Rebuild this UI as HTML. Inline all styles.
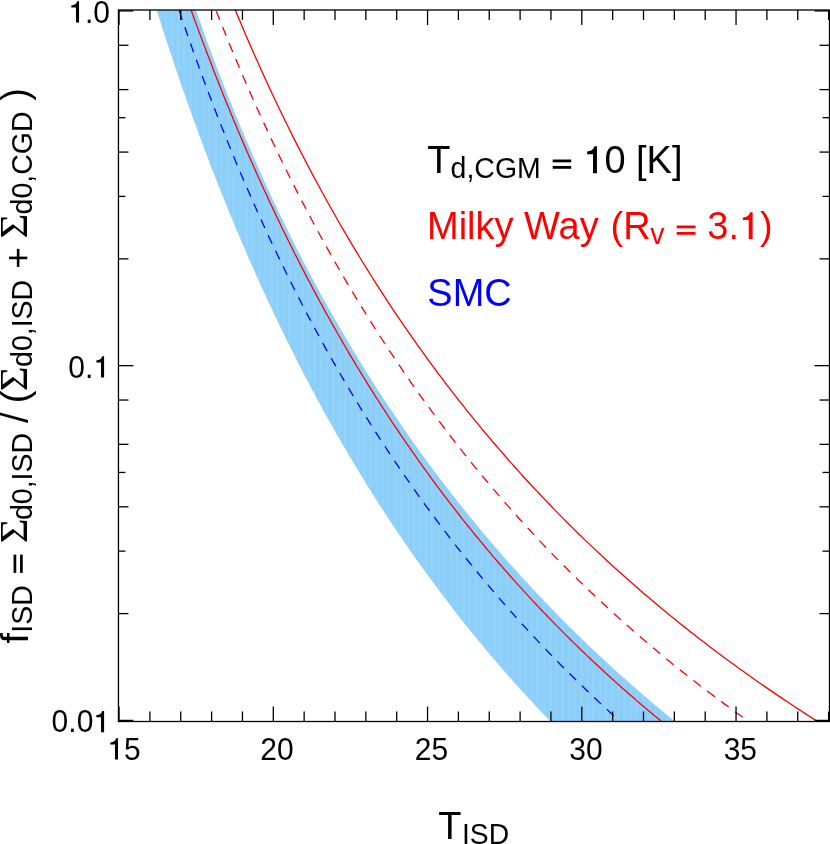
<!DOCTYPE html>
<html><head><meta charset="utf-8"><title>f_ISD vs T_ISD</title>
<style>
html,body{margin:0;padding:0;background:#fff;}
body{width:830px;height:844px;overflow:hidden;}
svg{display:block;font-family:"Liberation Sans",sans-serif;will-change:transform;transform:translateZ(0);}
</style></head><body>
<svg width="830" height="844" viewBox="0 0 830 844">
<rect x="0" y="0" width="830" height="844" fill="#fff"/>
<defs>
<clipPath id="cp"><rect x="118.45" y="10.0" width="711.05" height="711.5"/></clipPath>
<pattern id="stripe" width="6.2" height="8" patternUnits="userSpaceOnUse">
<rect width="6.2" height="8" fill="#8acef9"/><rect x="3.1" width="3.1" height="8" fill="#92d2fa"/>
</pattern>
</defs>
<g clip-path="url(#cp)">
<path d="M156.62,10.00 L159.11,17.87 L161.59,25.66 L164.08,33.38 L166.57,41.02 L169.05,48.59 L171.54,56.09 L174.03,63.52 L176.51,70.88 L179.00,78.17 L181.49,85.39 L183.98,92.55 L186.46,99.64 L188.95,106.67 L191.44,113.63 L193.92,120.53 L196.41,127.37 L198.90,134.15 L201.38,140.86 L203.87,147.52 L206.36,154.12 L208.85,160.66 L211.33,167.15 L213.82,173.57 L216.31,179.95 L218.79,186.26 L221.28,192.53 L223.77,198.74 L226.25,204.89 L228.74,211.00 L231.23,217.05 L233.72,223.06 L236.20,229.01 L238.69,234.92 L241.18,240.77 L243.66,246.58 L246.15,252.34 L248.64,258.05 L251.12,263.72 L253.61,269.34 L256.10,274.91 L258.59,280.44 L261.07,285.93 L263.56,291.37 L266.05,296.77 L268.53,302.13 L271.02,307.45 L273.51,312.72 L275.99,317.96 L278.48,323.15 L280.97,328.30 L283.46,333.41 L285.94,338.49 L288.43,343.52 L290.92,348.52 L293.40,353.48 L295.89,358.40 L298.38,363.29 L300.86,368.14 L303.35,372.95 L305.84,377.72 L308.33,382.47 L310.81,387.17 L313.30,391.85 L315.79,396.48 L318.27,401.09 L320.76,405.66 L323.25,410.20 L325.73,414.70 L328.22,419.18 L330.71,423.62 L333.20,428.03 L335.68,432.41 L338.17,436.76 L340.66,441.08 L343.14,445.36 L345.63,449.62 L348.12,453.85 L350.60,458.05 L353.09,462.22 L355.58,466.36 L358.06,470.47 L360.55,474.55 L363.04,478.61 L365.53,482.64 L368.01,486.64 L370.50,490.62 L372.99,494.57 L375.47,498.49 L377.96,502.39 L380.45,506.26 L382.93,510.10 L385.42,513.92 L387.91,517.72 L390.40,521.49 L392.88,525.23 L395.37,528.95 L397.86,532.65 L400.34,536.32 L402.83,539.97 L405.32,543.60 L407.80,547.20 L410.29,550.78 L412.78,554.34 L415.27,557.87 L417.75,561.38 L420.24,564.87 L422.73,568.34 L425.21,571.79 L427.70,575.21 L430.19,578.62 L432.67,582.00 L435.16,585.36 L437.65,588.70 L440.14,592.02 L442.62,595.32 L445.11,598.61 L447.60,601.87 L450.08,605.11 L452.57,608.33 L455.06,611.53 L457.54,614.71 L460.03,617.88 L462.52,621.02 L465.01,624.15 L467.49,627.26 L469.98,630.35 L472.47,633.42 L474.95,636.47 L477.44,639.51 L479.93,642.53 L482.41,645.53 L484.90,648.51 L487.39,651.48 L489.88,654.42 L492.36,657.36 L494.85,660.27 L497.34,663.17 L499.82,666.05 L502.31,668.92 L504.80,671.77 L507.28,674.60 L509.77,677.42 L512.26,680.22 L514.75,683.00 L517.23,685.77 L519.72,688.53 L522.21,691.27 L524.69,693.99 L527.18,696.70 L529.67,699.40 L532.15,702.08 L534.64,704.74 L537.13,707.39 L539.62,710.03 L542.10,712.65 L544.59,715.26 L547.08,717.85 L549.56,720.43 L552.05,723.00 L676.85,723.00 L673.83,720.54 L670.80,718.07 L667.78,715.59 L664.75,713.09 L661.73,710.58 L658.70,708.05 L655.68,705.51 L652.65,702.96 L649.62,700.39 L646.60,697.81 L643.57,695.22 L640.55,692.61 L637.52,689.98 L634.50,687.34 L631.47,684.69 L628.45,682.02 L625.42,679.33 L622.40,676.63 L619.37,673.92 L616.35,671.19 L613.32,668.44 L610.30,665.68 L607.27,662.90 L604.25,660.10 L601.22,657.29 L598.20,654.47 L595.17,651.62 L592.15,648.76 L589.12,645.88 L586.10,642.99 L583.07,640.07 L580.04,637.14 L577.02,634.19 L573.99,631.23 L570.97,628.24 L567.94,625.24 L564.92,622.22 L561.89,619.18 L558.87,616.13 L555.84,613.05 L552.82,609.95 L549.79,606.84 L546.77,603.70 L543.74,600.55 L540.72,597.37 L537.69,594.18 L534.67,590.96 L531.64,587.73 L528.62,584.47 L525.59,581.20 L522.57,577.90 L519.54,574.58 L516.52,571.24 L513.49,567.87 L510.46,564.49 L507.44,561.08 L504.41,557.65 L501.39,554.20 L498.36,550.72 L495.34,547.22 L492.31,543.70 L489.29,540.15 L486.26,536.58 L483.24,532.98 L480.21,529.36 L477.19,525.71 L474.16,522.04 L471.14,518.34 L468.11,514.62 L465.09,510.87 L462.06,507.10 L459.04,503.29 L456.01,499.46 L452.99,495.61 L449.96,491.72 L446.94,487.81 L443.91,483.86 L440.88,479.89 L437.86,475.89 L434.83,471.86 L431.81,467.80 L428.78,463.71 L425.76,459.59 L422.73,455.44 L419.71,451.26 L416.68,447.04 L413.66,442.80 L410.63,438.52 L407.61,434.20 L404.58,429.85 L401.56,425.47 L398.53,421.06 L395.51,416.61 L392.48,412.12 L389.46,407.60 L386.43,403.04 L383.41,398.44 L380.38,393.81 L377.35,389.14 L374.33,384.43 L371.30,379.68 L368.28,374.89 L365.25,370.06 L362.23,365.19 L359.20,360.28 L356.18,355.33 L353.15,350.33 L350.13,345.29 L347.10,340.21 L344.08,335.08 L341.05,329.91 L338.03,324.69 L335.00,319.43 L331.98,314.12 L328.95,308.76 L325.93,303.35 L322.90,297.89 L319.88,292.38 L316.85,286.82 L313.83,281.21 L310.80,275.54 L307.77,269.82 L304.75,264.05 L301.72,258.22 L298.70,252.33 L295.67,246.39 L292.65,240.39 L289.62,234.32 L286.60,228.20 L283.57,222.02 L280.55,215.77 L277.52,209.46 L274.50,203.09 L271.47,196.65 L268.45,190.14 L265.42,183.56 L262.40,176.92 L259.37,170.20 L256.35,163.41 L253.32,156.55 L250.30,149.61 L247.27,142.59 L244.25,135.50 L241.22,128.33 L238.19,121.07 L235.17,113.74 L232.14,106.32 L229.12,98.81 L226.09,91.21 L223.07,83.53 L220.04,75.75 L217.02,67.88 L213.99,59.92 L210.97,51.85 L207.94,43.69 L204.92,35.43 L201.89,27.06 L198.87,18.58 L195.84,10.00 Z" fill="url(#stripe)" stroke="none"/>
<path d="M179.27,10.90 L182.06,19.12 L184.84,27.25 L187.63,35.29 L190.41,43.24 L193.19,51.11 L195.98,58.89 L198.76,66.58 L201.54,74.20 L204.33,81.73 L207.11,89.18 L209.90,96.56 L212.68,103.86 L215.46,111.09 L218.25,118.24 L221.03,125.32 L223.81,132.32 L226.60,139.26 L229.38,146.13 L232.17,152.93 L234.95,159.66 L237.73,166.33 L240.52,172.93 L243.30,179.47 L246.08,185.94 L248.87,192.36 L251.65,198.71 L254.44,205.01 L257.22,211.24 L260.00,217.42 L262.79,223.54 L265.57,229.60 L268.35,235.61 L271.14,241.57 L273.92,247.47 L276.71,253.31 L279.49,259.11 L282.27,264.85 L285.06,270.55 L287.84,276.19 L290.63,281.78 L293.41,287.33 L296.19,292.83 L298.98,298.28 L301.76,303.68 L304.54,309.04 L307.33,314.35 L310.11,319.62 L312.90,324.85 L315.68,330.03 L318.46,335.17 L321.25,340.26 L324.03,345.32 L326.81,350.33 L329.60,355.30 L332.38,360.24 L335.17,365.13 L337.95,369.98 L340.73,374.80 L343.52,379.58 L346.30,384.32 L349.08,389.02 L351.87,393.69 L354.65,398.32 L357.44,402.91 L360.22,407.47 L363.00,412.00 L365.79,416.49 L368.57,420.94 L371.35,425.37 L374.14,429.76 L376.92,434.11 L379.71,438.44 L382.49,442.73 L385.27,446.99 L388.06,451.22 L390.84,455.42 L393.62,459.59 L396.41,463.72 L399.19,467.83 L401.98,471.91 L404.76,475.96 L407.54,479.98 L410.33,483.98 L413.11,487.94 L415.89,491.88 L418.68,495.79 L421.46,499.67 L424.25,503.52 L427.03,507.35 L429.81,511.15 L432.60,514.93 L435.38,518.68 L438.16,522.41 L440.95,526.10 L443.73,529.78 L446.52,533.43 L449.30,537.06 L452.08,540.66 L454.87,544.24 L457.65,547.79 L460.43,551.32 L463.22,554.83 L466.00,558.31 L468.79,561.77 L471.57,565.21 L474.35,568.63 L477.14,572.03 L479.92,575.40 L482.71,578.75 L485.49,582.08 L488.27,585.39 L491.06,588.68 L493.84,591.95 L496.62,595.20 L499.41,598.43 L502.19,601.63 L504.98,604.82 L507.76,607.99 L510.54,611.14 L513.33,614.27 L516.11,617.38 L518.89,620.47 L521.68,623.54 L524.46,626.59 L527.25,629.63 L530.03,632.65 L532.81,635.64 L535.60,638.63 L538.38,641.59 L541.16,644.53 L543.95,647.46 L546.73,650.37 L549.52,653.27 L552.30,656.15 L555.08,659.01 L557.87,661.85 L560.65,664.68 L563.43,667.49 L566.22,670.28 L569.00,673.06 L571.79,675.83 L574.57,678.57 L577.35,681.30 L580.14,684.02 L582.92,686.72 L585.70,689.41 L588.49,692.08 L591.27,694.73 L594.06,697.38 L596.84,700.00 L599.62,702.61 L602.41,705.21 L605.19,707.79 L607.97,710.36 L610.76,712.92 L613.54,715.46 L616.33,717.99 L619.11,720.50 L621.89,723.00" fill="none" stroke="#00f" stroke-width="1.3" stroke-dasharray="9.3 7.948"/>
<path d="M191.10,10.00 L194.07,18.22 L197.04,26.35 L200.01,34.40 L202.98,42.37 L205.96,50.25 L208.93,58.06 L211.90,65.78 L214.87,73.43 L217.84,81.00 L220.81,88.50 L223.78,95.92 L226.75,103.26 L229.72,110.54 L232.69,117.74 L235.67,124.88 L238.64,131.94 L241.61,138.94 L244.58,145.87 L247.55,152.73 L250.52,159.53 L253.49,166.26 L256.46,172.93 L259.43,179.53 L262.40,186.08 L265.38,192.56 L268.35,198.98 L271.32,205.35 L274.29,211.65 L277.26,217.90 L280.23,224.09 L283.20,230.22 L286.17,236.30 L289.14,242.32 L292.12,248.29 L295.09,254.21 L298.06,260.07 L301.03,265.88 L304.00,271.64 L306.97,277.35 L309.94,283.01 L312.91,288.62 L315.88,294.18 L318.85,299.70 L321.83,305.16 L324.80,310.58 L327.77,315.95 L330.74,321.28 L333.71,326.56 L336.68,331.80 L339.65,336.99 L342.62,342.14 L345.59,347.25 L348.56,352.31 L351.54,357.34 L354.51,362.32 L357.48,367.26 L360.45,372.16 L363.42,377.02 L366.39,381.84 L369.36,386.62 L372.33,391.36 L375.30,396.07 L378.28,400.73 L381.25,405.36 L384.22,409.96 L387.19,414.52 L390.16,419.04 L393.13,423.52 L396.10,427.97 L399.07,432.39 L402.04,436.77 L405.01,441.12 L407.99,445.44 L410.96,449.72 L413.93,453.97 L416.90,458.18 L419.87,462.37 L422.84,466.52 L425.81,470.64 L428.78,474.73 L431.75,478.80 L434.73,482.83 L437.70,486.83 L440.67,490.80 L443.64,494.74 L446.61,498.65 L449.58,502.54 L452.55,506.39 L455.52,510.22 L458.49,514.02 L461.46,517.79 L464.44,521.54 L467.41,525.26 L470.38,528.95 L473.35,532.61 L476.32,536.25 L479.29,539.87 L482.26,543.46 L485.23,547.02 L488.20,550.56 L491.17,554.07 L494.15,557.56 L497.12,561.03 L500.09,564.47 L503.06,567.89 L506.03,571.28 L509.00,574.66 L511.97,578.00 L514.94,581.33 L517.91,584.63 L520.89,587.91 L523.86,591.17 L526.83,594.41 L529.80,597.63 L532.77,600.82 L535.74,603.99 L538.71,607.15 L541.68,610.28 L544.65,613.39 L547.62,616.48 L550.60,619.55 L553.57,622.60 L556.54,625.63 L559.51,628.64 L562.48,631.63 L565.45,634.60 L568.42,637.56 L571.39,640.49 L574.36,643.41 L577.33,646.30 L580.31,649.18 L583.28,652.04 L586.25,654.89 L589.22,657.71 L592.19,660.52 L595.16,663.31 L598.13,666.08 L601.10,668.84 L604.07,671.58 L607.05,674.30 L610.02,677.00 L612.99,679.69 L615.96,682.36 L618.93,685.02 L621.90,687.66 L624.87,690.28 L627.84,692.89 L630.81,695.48 L633.78,698.06 L636.76,700.62 L639.73,703.17 L642.70,705.70 L645.67,708.21 L648.64,710.71 L651.61,713.20 L654.58,715.67 L657.55,718.13 L660.52,720.57 L663.50,723.00" fill="none" stroke="#f00" stroke-width="1.3"/>
<path d="M216.21,10.90 L219.57,19.43 L222.93,27.85 L226.30,36.18 L229.66,44.41 L233.02,52.55 L236.39,60.60 L239.75,68.55 L243.11,76.42 L246.47,84.20 L249.84,91.89 L253.20,99.50 L256.56,107.03 L259.93,114.47 L263.29,121.84 L266.65,129.12 L270.01,136.33 L273.38,143.46 L276.74,150.52 L280.10,157.50 L283.47,164.41 L286.83,171.25 L290.19,178.01 L293.55,184.71 L296.92,191.34 L300.28,197.91 L303.64,204.40 L307.01,210.84 L310.37,217.21 L313.73,223.51 L317.09,229.76 L320.46,235.94 L323.82,242.06 L327.18,248.12 L330.55,254.13 L333.91,260.08 L337.27,265.97 L340.63,271.80 L344.00,277.58 L347.36,283.31 L350.72,288.98 L354.08,294.60 L357.45,300.17 L360.81,305.69 L364.17,311.15 L367.54,316.57 L370.90,321.94 L374.26,327.26 L377.62,332.53 L380.99,337.76 L384.35,342.93 L387.71,348.07 L391.08,353.15 L394.44,358.20 L397.80,363.20 L401.16,368.15 L404.53,373.07 L407.89,377.94 L411.25,382.77 L414.62,387.56 L417.98,392.31 L421.34,397.01 L424.70,401.68 L428.07,406.31 L431.43,410.90 L434.79,415.46 L438.16,419.97 L441.52,424.45 L444.88,428.89 L448.24,433.30 L451.61,437.67 L454.97,442.01 L458.33,446.31 L461.70,450.57 L465.06,454.80 L468.42,459.00 L471.78,463.17 L475.15,467.30 L478.51,471.40 L481.87,475.47 L485.24,479.51 L488.60,483.51 L491.96,487.49 L495.32,491.43 L498.69,495.35 L502.05,499.23 L505.41,503.09 L508.78,506.91 L512.14,510.71 L515.50,514.48 L518.86,518.22 L522.23,521.93 L525.59,525.62 L528.95,529.28 L532.31,532.91 L535.68,536.52 L539.04,540.10 L542.40,543.65 L545.77,547.18 L549.13,550.68 L552.49,554.16 L555.85,557.61 L559.22,561.04 L562.58,564.44 L565.94,567.82 L569.31,571.17 L572.67,574.51 L576.03,577.82 L579.39,581.10 L582.76,584.36 L586.12,587.61 L589.48,590.82 L592.85,594.02 L596.21,597.19 L599.57,600.35 L602.93,603.48 L606.30,606.59 L609.66,609.68 L613.02,612.75 L616.39,615.79 L619.75,618.82 L623.11,621.83 L626.47,624.82 L629.84,627.79 L633.20,630.73 L636.56,633.66 L639.93,636.57 L643.29,639.46 L646.65,642.34 L650.01,645.19 L653.38,648.03 L656.74,650.84 L660.10,653.64 L663.47,656.42 L666.83,659.19 L670.19,661.93 L673.55,664.66 L676.92,667.37 L680.28,670.07 L683.64,672.75 L687.01,675.41 L690.37,678.05 L693.73,680.68 L697.09,683.29 L700.46,685.89 L703.82,688.47 L707.18,691.03 L710.54,693.58 L713.91,696.12 L717.27,698.63 L720.63,701.14 L724.00,703.62 L727.36,706.10 L730.72,708.56 L734.08,711.00 L737.45,713.43 L740.81,715.84 L744.17,718.24 L747.54,720.63 L750.90,723.00" fill="none" stroke="#f00" stroke-width="1.3" stroke-dasharray="9.5 7.845"/>
<path d="M235.24,10.00 L238.92,18.82 L242.60,27.53 L246.28,36.14 L249.96,44.63 L253.63,53.01 L257.31,61.30 L260.99,69.48 L264.67,77.56 L268.35,85.55 L272.02,93.43 L275.70,101.23 L279.38,108.93 L283.06,116.55 L286.74,124.07 L290.42,131.51 L294.09,138.86 L297.77,146.13 L301.45,153.31 L305.13,160.42 L308.81,167.45 L312.48,174.39 L316.16,181.27 L319.84,188.06 L323.52,194.79 L327.20,201.44 L330.88,208.02 L334.55,214.53 L338.23,220.97 L341.91,227.34 L345.59,233.65 L349.27,239.89 L352.94,246.06 L356.62,252.18 L360.30,258.23 L363.98,264.22 L367.66,270.15 L371.34,276.02 L375.01,281.83 L378.69,287.59 L382.37,293.28 L386.05,298.93 L389.73,304.52 L393.40,310.05 L397.08,315.53 L400.76,320.96 L404.44,326.34 L408.12,331.66 L411.80,336.94 L415.47,342.17 L419.15,347.35 L422.83,352.48 L426.51,357.56 L430.19,362.60 L433.86,367.59 L437.54,372.54 L441.22,377.44 L444.90,382.30 L448.58,387.11 L452.26,391.89 L455.93,396.62 L459.61,401.31 L463.29,405.95 L466.97,410.56 L470.65,415.13 L474.32,419.66 L478.00,424.15 L481.68,428.60 L485.36,433.02 L489.04,437.40 L492.72,441.74 L496.39,446.04 L500.07,450.31 L503.75,454.54 L507.43,458.74 L511.11,462.91 L514.78,467.04 L518.46,471.13 L522.14,475.20 L525.82,479.23 L529.50,483.23 L533.18,487.20 L536.85,491.13 L540.53,495.04 L544.21,498.91 L547.89,502.76 L551.57,506.57 L555.24,510.36 L558.92,514.11 L562.60,517.84 L566.28,521.54 L569.96,525.21 L573.63,528.85 L577.31,532.46 L580.99,536.05 L584.67,539.61 L588.35,543.14 L592.03,546.65 L595.70,550.13 L599.38,553.59 L603.06,557.02 L606.74,560.42 L610.42,563.81 L614.09,567.16 L617.77,570.49 L621.45,573.80 L625.13,577.09 L628.81,580.35 L632.49,583.59 L636.16,586.80 L639.84,589.99 L643.52,593.16 L647.20,596.31 L650.88,599.44 L654.55,602.54 L658.23,605.62 L661.91,608.68 L665.59,611.72 L669.27,614.74 L672.95,617.74 L676.62,620.72 L680.30,623.68 L683.98,626.62 L687.66,629.54 L691.34,632.44 L695.01,635.32 L698.69,638.18 L702.37,641.02 L706.05,643.84 L709.73,646.65 L713.41,649.43 L717.08,652.20 L720.76,654.95 L724.44,657.68 L728.12,660.40 L731.80,663.09 L735.47,665.77 L739.15,668.44 L742.83,671.08 L746.51,673.71 L750.19,676.32 L753.87,678.92 L757.54,681.50 L761.22,684.06 L764.90,686.61 L768.58,689.14 L772.26,691.66 L775.93,694.16 L779.61,696.64 L783.29,699.11 L786.97,701.57 L790.65,704.01 L794.33,706.43 L798.00,708.84 L801.68,711.24 L805.36,713.62 L809.04,715.98 L812.72,718.34 L816.39,720.68 L820.07,723.00" fill="none" stroke="#f00" stroke-width="1.3"/>
</g>
<g stroke="#000" fill="none">
<line x1="119.05" y1="721.5" x2="119.05" y2="706.5" stroke-width="1.3"/>
<line x1="119.05" y1="10.0" x2="119.05" y2="25.0" stroke-width="1.3"/>
<line x1="149.90" y1="721.5" x2="149.90" y2="711.5" stroke-width="1.3"/>
<line x1="149.90" y1="10.0" x2="149.90" y2="20.0" stroke-width="1.3"/>
<line x1="180.75" y1="721.5" x2="180.75" y2="711.5" stroke-width="1.3"/>
<line x1="180.75" y1="10.0" x2="180.75" y2="20.0" stroke-width="1.3"/>
<line x1="211.60" y1="721.5" x2="211.60" y2="711.5" stroke-width="1.3"/>
<line x1="211.60" y1="10.0" x2="211.60" y2="20.0" stroke-width="1.3"/>
<line x1="242.45" y1="721.5" x2="242.45" y2="711.5" stroke-width="1.3"/>
<line x1="242.45" y1="10.0" x2="242.45" y2="20.0" stroke-width="1.3"/>
<line x1="273.30" y1="721.5" x2="273.30" y2="706.5" stroke-width="1.3"/>
<line x1="273.30" y1="10.0" x2="273.30" y2="25.0" stroke-width="1.3"/>
<line x1="304.15" y1="721.5" x2="304.15" y2="711.5" stroke-width="1.3"/>
<line x1="304.15" y1="10.0" x2="304.15" y2="20.0" stroke-width="1.3"/>
<line x1="335.00" y1="721.5" x2="335.00" y2="711.5" stroke-width="1.3"/>
<line x1="335.00" y1="10.0" x2="335.00" y2="20.0" stroke-width="1.3"/>
<line x1="365.85" y1="721.5" x2="365.85" y2="711.5" stroke-width="1.3"/>
<line x1="365.85" y1="10.0" x2="365.85" y2="20.0" stroke-width="1.3"/>
<line x1="396.70" y1="721.5" x2="396.70" y2="711.5" stroke-width="1.3"/>
<line x1="396.70" y1="10.0" x2="396.70" y2="20.0" stroke-width="1.3"/>
<line x1="427.55" y1="721.5" x2="427.55" y2="706.5" stroke-width="1.3"/>
<line x1="427.55" y1="10.0" x2="427.55" y2="25.0" stroke-width="1.3"/>
<line x1="458.40" y1="721.5" x2="458.40" y2="711.5" stroke-width="1.3"/>
<line x1="458.40" y1="10.0" x2="458.40" y2="20.0" stroke-width="1.3"/>
<line x1="489.25" y1="721.5" x2="489.25" y2="711.5" stroke-width="1.3"/>
<line x1="489.25" y1="10.0" x2="489.25" y2="20.0" stroke-width="1.3"/>
<line x1="520.10" y1="721.5" x2="520.10" y2="711.5" stroke-width="1.3"/>
<line x1="520.10" y1="10.0" x2="520.10" y2="20.0" stroke-width="1.3"/>
<line x1="550.95" y1="721.5" x2="550.95" y2="711.5" stroke-width="1.3"/>
<line x1="550.95" y1="10.0" x2="550.95" y2="20.0" stroke-width="1.3"/>
<line x1="581.80" y1="721.5" x2="581.80" y2="706.5" stroke-width="1.3"/>
<line x1="581.80" y1="10.0" x2="581.80" y2="25.0" stroke-width="1.3"/>
<line x1="612.65" y1="721.5" x2="612.65" y2="711.5" stroke-width="1.3"/>
<line x1="612.65" y1="10.0" x2="612.65" y2="20.0" stroke-width="1.3"/>
<line x1="643.50" y1="721.5" x2="643.50" y2="711.5" stroke-width="1.3"/>
<line x1="643.50" y1="10.0" x2="643.50" y2="20.0" stroke-width="1.3"/>
<line x1="674.35" y1="721.5" x2="674.35" y2="711.5" stroke-width="1.3"/>
<line x1="674.35" y1="10.0" x2="674.35" y2="20.0" stroke-width="1.3"/>
<line x1="705.20" y1="721.5" x2="705.20" y2="711.5" stroke-width="1.3"/>
<line x1="705.20" y1="10.0" x2="705.20" y2="20.0" stroke-width="1.3"/>
<line x1="736.05" y1="721.5" x2="736.05" y2="706.5" stroke-width="1.3"/>
<line x1="736.05" y1="10.0" x2="736.05" y2="25.0" stroke-width="1.3"/>
<line x1="766.90" y1="721.5" x2="766.90" y2="711.5" stroke-width="1.3"/>
<line x1="766.90" y1="10.0" x2="766.90" y2="20.0" stroke-width="1.3"/>
<line x1="797.75" y1="721.5" x2="797.75" y2="711.5" stroke-width="1.3"/>
<line x1="797.75" y1="10.0" x2="797.75" y2="20.0" stroke-width="1.3"/>
<line x1="828.60" y1="721.5" x2="828.60" y2="711.5" stroke-width="1.3"/>
<line x1="828.60" y1="10.0" x2="828.60" y2="20.0" stroke-width="1.3"/>
<line x1="118.45" y1="10.90" x2="133.45" y2="10.90" stroke-width="1.3"/>
<line x1="829.5" y1="10.90" x2="814.5" y2="10.90" stroke-width="1.3"/>
<line x1="118.45" y1="45.28" x2="128.45" y2="45.28" stroke-width="1.3"/>
<line x1="829.5" y1="45.28" x2="819.5" y2="45.28" stroke-width="1.3"/>
<line x1="118.45" y1="89.60" x2="128.45" y2="89.60" stroke-width="1.3"/>
<line x1="829.5" y1="89.60" x2="819.5" y2="89.60" stroke-width="1.3"/>
<line x1="118.45" y1="117.69" x2="125.45" y2="117.69" stroke-width="1.3"/>
<line x1="829.5" y1="117.69" x2="822.5" y2="117.69" stroke-width="1.3"/>
<line x1="118.45" y1="152.07" x2="128.45" y2="152.07" stroke-width="1.3"/>
<line x1="829.5" y1="152.07" x2="819.5" y2="152.07" stroke-width="1.3"/>
<line x1="118.45" y1="196.39" x2="125.45" y2="196.39" stroke-width="1.3"/>
<line x1="829.5" y1="196.39" x2="822.5" y2="196.39" stroke-width="1.3"/>
<line x1="118.45" y1="258.86" x2="128.45" y2="258.86" stroke-width="1.3"/>
<line x1="829.5" y1="258.86" x2="819.5" y2="258.86" stroke-width="1.3"/>
<line x1="118.45" y1="365.65" x2="133.45" y2="365.65" stroke-width="1.3"/>
<line x1="829.5" y1="365.65" x2="814.5" y2="365.65" stroke-width="1.3"/>
<line x1="118.45" y1="400.03" x2="128.45" y2="400.03" stroke-width="1.3"/>
<line x1="829.5" y1="400.03" x2="819.5" y2="400.03" stroke-width="1.3"/>
<line x1="118.45" y1="444.35" x2="128.45" y2="444.35" stroke-width="1.3"/>
<line x1="829.5" y1="444.35" x2="819.5" y2="444.35" stroke-width="1.3"/>
<line x1="118.45" y1="472.44" x2="125.45" y2="472.44" stroke-width="1.3"/>
<line x1="829.5" y1="472.44" x2="822.5" y2="472.44" stroke-width="1.3"/>
<line x1="118.45" y1="506.82" x2="128.45" y2="506.82" stroke-width="1.3"/>
<line x1="829.5" y1="506.82" x2="819.5" y2="506.82" stroke-width="1.3"/>
<line x1="118.45" y1="551.14" x2="125.45" y2="551.14" stroke-width="1.3"/>
<line x1="829.5" y1="551.14" x2="822.5" y2="551.14" stroke-width="1.3"/>
<line x1="118.45" y1="613.61" x2="128.45" y2="613.61" stroke-width="1.3"/>
<line x1="829.5" y1="613.61" x2="819.5" y2="613.61" stroke-width="1.3"/>
<line x1="118.45" y1="720.40" x2="133.45" y2="720.40" stroke-width="1.3"/>
<line x1="829.5" y1="720.40" x2="814.5" y2="720.40" stroke-width="1.3"/>
<rect x="118.45" y="10.0" width="711.05" height="711.5" stroke-width="1.3"/>
</g>
<g fill="#000">
<path transform="translate(68.30,22.60) scale(30)" d="M.359 0H.256V-.5H.101V-.57Q.262 -.582 .296 -.709H.359Z" fill="#000"/>
<text transform="translate(84.98,22.60) scale(1,1.045)" font-size="30" fill="#000" text-anchor="start" >.0</text>
<text transform="translate(68.30,377.60) scale(1,1.045)" font-size="30" fill="#000" text-anchor="start" >0.</text>
<path transform="translate(93.32,377.60) scale(30)" d="M.359 0H.256V-.5H.101V-.57Q.262 -.582 .296 -.709H.359Z" fill="#000"/>
<text transform="translate(51.62,732.20) scale(1,1.045)" font-size="30" fill="#000" text-anchor="start" >0.0</text>
<path transform="translate(93.32,732.20) scale(30)" d="M.359 0H.256V-.5H.101V-.57Q.262 -.582 .296 -.709H.359Z" fill="#000"/>
<path transform="translate(107.27,759.60) scale(30)" d="M.359 0H.256V-.5H.101V-.57Q.262 -.582 .296 -.709H.359Z" fill="#000"/>
<text transform="translate(123.95,759.60) scale(1,1.045)" font-size="30" fill="#000" text-anchor="start" >5</text>
<text transform="translate(260.32,759.60) scale(1,1.045)" font-size="30" fill="#000" text-anchor="start" >20</text>
<text transform="translate(414.77,759.60) scale(1,1.045)" font-size="30" fill="#000" text-anchor="start" >25</text>
<text transform="translate(569.32,759.60) scale(1,1.045)" font-size="30" fill="#000" text-anchor="start" >30</text>
<text transform="translate(723.67,759.60) scale(1,1.045)" font-size="30" fill="#000" text-anchor="start" >35</text>
<text transform="translate(438.30,839.40) scale(1,1.045)" font-size="38" fill="#000" text-anchor="start" >T</text>
<text transform="translate(461.90,843.60) scale(1,1.045)" font-size="28.3" fill="#000" text-anchor="start" >ISD</text>
<text transform="translate(427.30,173.20) scale(1,1.045)" font-size="38" fill="#000" text-anchor="start" >T</text>
<text transform="translate(450.60,177.60) scale(1,1.045)" font-size="28.5" fill="#000" text-anchor="start" >d,CGM</text>
<rect x="552.70" y="159.52" width="18.5" height="2.8" fill="#000"/>
<rect x="552.70" y="165.98" width="18.5" height="2.8" fill="#000"/>
<path transform="translate(583.30,173.20) scale(38)" d="M.359 0H.256V-.5H.101V-.57Q.262 -.582 .296 -.709H.359Z" fill="#000"/>
<text transform="translate(604.43,173.20) scale(1,1.045)" font-size="38" fill="#000" text-anchor="start" >0</text>
<text transform="translate(636.00,173.20) scale(1,1.045)" font-size="38" fill="#000" text-anchor="start" >[K]</text>
<text transform="translate(427.00,239.10) scale(1,1.045)" font-size="38" fill="#f00" text-anchor="start" >Milky Way</text>
<text transform="translate(610.60,239.10) scale(1,1.045)" font-size="38" fill="#f00" text-anchor="start" >(R</text>
<text transform="translate(650.30,243.50) scale(1,1.045)" font-size="28.5" fill="#f00" text-anchor="start" >v</text>
<rect x="676.70" y="225.52" width="18.8" height="2.8" fill="#f00"/>
<rect x="676.70" y="231.98" width="18.8" height="2.8" fill="#f00"/>
<text transform="translate(707.30,239.10) scale(1,1.045)" font-size="38" fill="#f00" text-anchor="start" >3.</text>
<path transform="translate(738.99,239.10) scale(38)" d="M.359 0H.256V-.5H.101V-.57Q.262 -.582 .296 -.709H.359Z" fill="#f00"/>
<text transform="translate(760.12,239.10) scale(1,1.045)" font-size="38" fill="#f00" text-anchor="start" >)</text>
<text transform="translate(427.30,305.50) scale(1,1.045)" font-size="38" fill="#00f" text-anchor="start" >SMC</text>
<text transform="translate(27.5,643.6) rotate(-90) scale(1,1.045)" font-size="38" >f</text>
<text transform="translate(31.9,632.7) rotate(-90) scale(1,1.045)" font-size="28.5" >ISD</text>
<rect x="13.55" y="554.6" width="2.7" height="18.3"/>
<rect x="20.05" y="554.6" width="2.7" height="18.3"/>
<text transform="translate(26.8,543.2) rotate(-90) scale(1.12,1.045)" font-size="38" font-family="Liberation Serif">&#931;</text>
<text transform="translate(31.9,520.0) rotate(-90) scale(1,1.045)" font-size="28.5" >d0,ISD</text>
<text transform="translate(27.5,423.0) rotate(-90) scale(1,1.045)" font-size="38" >/</text>
<text transform="translate(27.5,403.2) rotate(-90) scale(1,1.045)" font-size="38" >(</text>
<text transform="translate(26.8,391.3) rotate(-90) scale(1.12,1.045)" font-size="38" font-family="Liberation Serif">&#931;</text>
<text transform="translate(31.9,366.9) rotate(-90) scale(1,1.045)" font-size="28.5" >d0,ISD</text>
<rect x="9.05" y="256.6" width="18.2" height="2.6"/>
<rect x="16.85" y="248.9" width="2.6" height="18.0"/>
<text transform="translate(26.8,238.4) rotate(-90) scale(1.12,1.045)" font-size="38" font-family="Liberation Serif">&#931;</text>
<text transform="translate(31.9,214.4) rotate(-90) scale(1,1.045)" font-size="28.5" >d0,CGD</text>
<text transform="translate(27.5,100.7) rotate(-90) scale(1,1.045)" font-size="38" >)</text>
</g>
</svg>
</body></html>
